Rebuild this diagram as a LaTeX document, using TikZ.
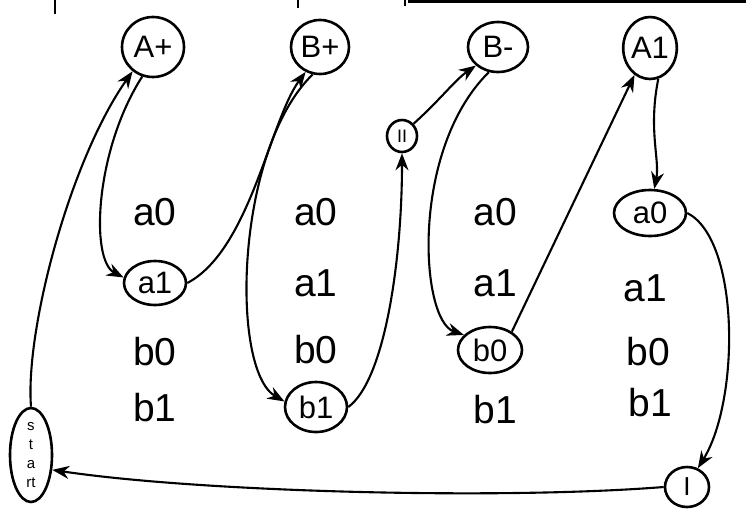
\documentclass[tikz,border=0pt]{standalone}
\usepackage{fontspec}
\setmainfont{Liberation Sans}
\usetikzlibrary{arrows.meta,shapes.geometric}
\begin{document}
\begin{tikzpicture}[x=1pt,y=-1pt, line width=2.6pt,
  st/.style={draw, ellipse, inner sep=0pt, font=\fontsize{31}{33}\selectfont},
  lbl/.style={font=\fontsize{39}{40}\selectfont, inner sep=0pt},
  arr/.style={line width=2.1pt, -{Stealth[length=17pt,width=13pt]}}]
\useasboundingbox (0,0) rectangle (746,528);
% border fragments at the top
\draw (55,0) -- (55,14);
\draw (298,0) -- (298,8);
\draw (405,0) -- (405,6);
\draw[line width=2.8pt] (408,1.5) -- (746,1.5);
% state nodes
\node[st, minimum width=62pt, minimum height=60pt] (Ap) at (153,47) {A+};
\node[st, minimum width=58pt, minimum height=54pt] (Bp) at (320,47) {B+};
\node[st, minimum width=60pt, minimum height=50pt] (Bm) at (498,47) {B-};
\node[st, minimum width=48pt, minimum height=62pt] (A1) at (650,48) {A1};
\node[st, minimum width=30pt, minimum height=32pt, font=\fontsize{18}{20}\selectfont] (ii) at (402,136) {II};
\node[st, minimum width=62pt, minimum height=44pt] (a1) at (155,283) {a1};
\node[st, minimum width=62pt, minimum height=50pt] (b1) at (316,407) {b1};
\node[st, minimum width=64pt, minimum height=46pt] (b0) at (490,350) {b0};
\node[st, minimum width=72pt, minimum height=46pt] (a0) at (650,213) {a0};
\node[st, minimum width=44pt, minimum height=40pt, font=\fontsize{26}{28}\selectfont] (I) at (687,487) {I};
\node[st, minimum width=42pt, minimum height=94pt, align=center, font=\fontsize{15}{19}\selectfont] (start) at (31,455) {s\\t\\a\\rt};
% plain labels
\node[lbl] (l1) at (155,212) {a0};
\node[lbl] (l2) at (155,352) {b0};
\node[lbl] (l3) at (155,408) {b1};
\node[lbl] (l4) at (316,212) {a0};
\node[lbl] (l5) at (316,283) {a1};
\node[lbl] (l6) at (316,350) {b0};
\node[lbl] (l7) at (495,212) {a0};
\node[lbl] (l8) at (495,283) {a1};
\node[lbl] (l9) at (495,410) {b1};
\node[lbl] (l10) at (645,288) {a1};
\node[lbl] (l11) at (648,352) {b0};
\node[lbl] (l12) at (650,403) {b1};
% connectors
\draw[arr] (start.north) .. controls (25,330) and (70,160) .. (Ap.230);
\draw[arr] (Ap.250) .. controls (95,150) and (90,260) .. (a1.170);
\draw[arr] (a1.east) .. controls (250,250) and (270,120) .. (Bp.240);
\draw[arr] (Bp.255) .. controls (235,150) and (230,370) .. (b1.170);
\draw[arr] (b1.east) .. controls (385,380) and (402,260) .. (ii.south);
\draw[arr] (ii.north east) .. controls (440,100) and (455,80) .. (Bm.220);
\draw[arr] (Bm.250) .. controls (410,150) and (420,320) .. (b0.150);
\draw[arr] (b0.40) -- (A1.240);
\draw[arr] (A1.285) .. controls (648,130) and (660,160) .. (a0.80);
\draw[arr] (a0.east) .. controls (740,240) and (740,400) .. (I.60);
\draw[arr] (I.west) .. controls (500,500) and (200,492) .. (start.-35);
\end{tikzpicture}
\end{document}
